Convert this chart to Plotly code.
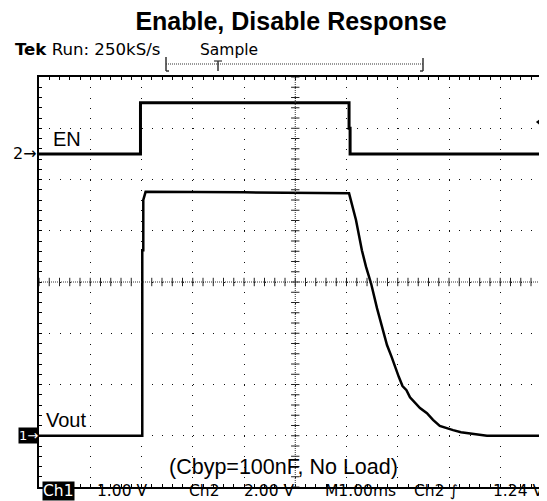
import numpy as np
import plotly.graph_objects as go

# --- data (time in ms from left edge of screen) ---
en_time = [0, 1.98, 1.98, 6.05, 6.05, 6.07, 6.07, 9.92]
en_volts = [0, 0, 2.0, 2.0, 1.0, 1.0, 0, 0]

vout_time = [0, 2.015, 2.015, 2.035, 2.035, 2.08, 4.0, 6.05, 6.185, 6.30, 6.38, 6.48,
             6.595, 6.72, 6.79, 6.88, 6.946, 7.02, 7.093, 7.17, 7.239, 7.34, 7.434,
             7.57, 7.688, 7.82, 7.941, 8.08, 8.234, 8.41, 8.74, 9.92]
vout_volts = [0, 0, 3.62, 3.62, 4.60, 4.76, 4.75, 4.73, 4.21, 3.62, 3.30, 2.97,
              2.49, 2.00, 1.77, 1.54, 1.34, 1.15, 0.97, 0.89, 0.75, 0.63, 0.54,
              0.44, 0.31, 0.19, 0.15, 0.11, 0.07, 0.05, 0, 0]

trig_level = 1.24                 # Ch2 trigger level, V
ch1_scale, ch2_scale = 1.0, 2.0   # V/div
ch1_pos, ch2_pos = -3.0, 2.5      # ground marker position, divisions from centre

bottom_labels = ["1.00 V", "Ch2", "2.00 V", "M1.00ms", "Ch2 ∫"]

# page has an 8px body margin, so the figure is laid out 8px up/left
OFF = 8
W, H = 547 - OFF, 501 - OFF
L, R, T, B = 39 - OFF, 0, 77 - OFF, 14
DIV = (H - T - B) / 8
x_span = (W - L - R) / DIV


def px(x, y):
    # screen pixel position (reference image) -> paper coords
    return (x - OFF - L) / (W - L - R), (H - B - (y - OFF)) / (H - T - B)


fig = go.Figure()

# centre graticule ticks
cx = np.arange(0, 10.01, 0.2)
fig.add_trace(go.Scatter(x=cx, y=[3.0] * len(cx), mode="markers", hoverinfo="skip", showlegend=False,
                         marker=dict(symbol="line-ns", size=6, line=dict(color="#222", width=1))))
cy = np.arange(-1, 7.01, 0.2)
fig.add_trace(go.Scatter(x=[5.0] * len(cy), y=cy, mode="markers", hoverinfo="skip", showlegend=False,
                         marker=dict(symbol="line-ew", size=6, line=dict(color="#222", width=1))))

# traces
fig.add_trace(go.Scatter(x=vout_time, y=vout_volts, mode="lines", name="Vout",
                         line=dict(color="black", width=2.5), yaxis="y"))
fig.add_trace(go.Scatter(x=en_time, y=en_volts, mode="lines", name="EN",
                         line=dict(color="black", width=3), yaxis="y2"))
# trigger level marker
fig.add_trace(go.Scatter(x=[x_span - 0.1], y=[trig_level], mode="markers", yaxis="y2",
                         cliponaxis=False, showlegend=False, hoverinfo="skip",
                         marker=dict(symbol="triangle-left", size=12, color="black")))

ch1_range = [(-4 - ch1_pos) * ch1_scale, (4 - ch1_pos) * ch1_scale]
ch2_range = [(-4 - ch2_pos) * ch2_scale, (4 - ch2_pos) * ch2_scale]

grid_dash = "1px,%.2fpx" % (DIV / 5 - 1)
tick_style = dict(ticks="inside", ticklen=3, tickcolor="black", tickwidth=1,
                  showticklabels=False, zeroline=False, showline=True,
                  linecolor="black", linewidth=1.5,
                  gridcolor="#111", gridwidth=1, griddash=grid_dash)

fig.update_layout(
    width=W, height=H,
    margin=dict(l=L, r=R, t=T, b=B),
    paper_bgcolor="white", plot_bgcolor="white",
    showlegend=False,
    title=dict(text="<b>Enable, Disable Response</b>", x=(291 - OFF) / W, xanchor="center",
               y=1 - (21 - OFF) / H, yanchor="middle",
               font=dict(family="Liberation Sans, Arial", size=25, color="black")),
    xaxis=dict(range=[0, x_span], dtick=1, tick0=0, mirror="allticks",
               minor=dict(ticks="inside", ticklen=3, dtick=0.2, tickcolor="black", showgrid=False),
               **tick_style),
    yaxis=dict(range=ch1_range, dtick=ch1_scale, tick0=0, mirror=False,
               minor=dict(ticks="inside", ticklen=3, dtick=ch1_scale / 5, tickcolor="black", showgrid=False),
               **tick_style),
    yaxis2=dict(range=ch2_range, overlaying="y", visible=False),
)

# dense dotted centre lines
fig.add_shape(type="line", xref="x", yref="y", x0=0, x1=x_span, y0=3, y1=3,
              line=dict(color="#333", width=1, dash="1px,1px"))
fig.add_shape(type="line", xref="x", yref="y", x0=5, x1=5, y0=ch1_range[0], y1=ch1_range[1],
              line=dict(color="#333", width=1, dash="1px,1px"))

# record length bar
for (x0, y0, x1, y1, d, w) in [(166, 64, 423, 64, "1px,1px", 1.2),
                               (166, 57, 166, 71, "solid", 1.5), (166, 71, 169, 71, "solid", 1.5),
                               (423, 58, 423, 71, "solid", 1.5), (420, 71, 423, 71, "solid", 1.5),
                               (218, 61, 218, 71, "solid", 1.5), (214, 61, 222, 61, "solid", 1.2)]:
    a0, b0 = px(x0, y0)
    a1, b1 = px(x1, y1)
    fig.add_shape(type="line", xref="paper", yref="paper", x0=a0, y0=b0, x1=a1, y1=b1,
                  line=dict(color="#333", width=w, dash=d))

tek = dict(family="DejaVu Sans", size=16, color="black")
arial = dict(family="Liberation Sans, Arial", size=20, color="black")


def note(text, x, y, font, xanchor="left", **kw):
    a, b = px(x, y)
    fig.add_annotation(text=text, x=a, y=b, xref="paper", yref="paper", xanchor=xanchor,
                       yanchor="middle", showarrow=False, font=font, **kw)


note("<b>Tek</b> Run: 250kS/s", 13, 50, dict(tek, size=16.6))
note("Sample", 198, 50, dict(tek, size=15.5))
note("EN", 51, 139, arial)
note("Vout", 44, 420, arial)
note("(Cbyp=100nF, No Load)", 283.5, 467, dict(arial, size=21.5), xanchor="center")

# channel ground markers
fig.add_annotation(text="2→", x=0, y=0, xref="paper", yref="y2", xanchor="right", yanchor="middle",
                   showarrow=False, font=dict(family="DejaVu Sans", size=16, color="black"))
fig.add_annotation(text="1→", x=0, y=0, xref="paper", yref="y", xanchor="right", yanchor="middle",
                   showarrow=False, bgcolor="black", borderpad=0,
                   font=dict(family="DejaVu Sans", size=13, color="white"))

# bottom status line
status = dict(tek, size=15.5)
note("Ch1", 42, 491, dict(status, color="white"), bgcolor="black", borderpad=0)
for lab, x in zip(bottom_labels, [95, 187, 242, 323, 412]):
    note(lab, x, 491, status)
note("1.24 V", 545, 491, status, xanchor="right")

fig.write_html("out.html")
